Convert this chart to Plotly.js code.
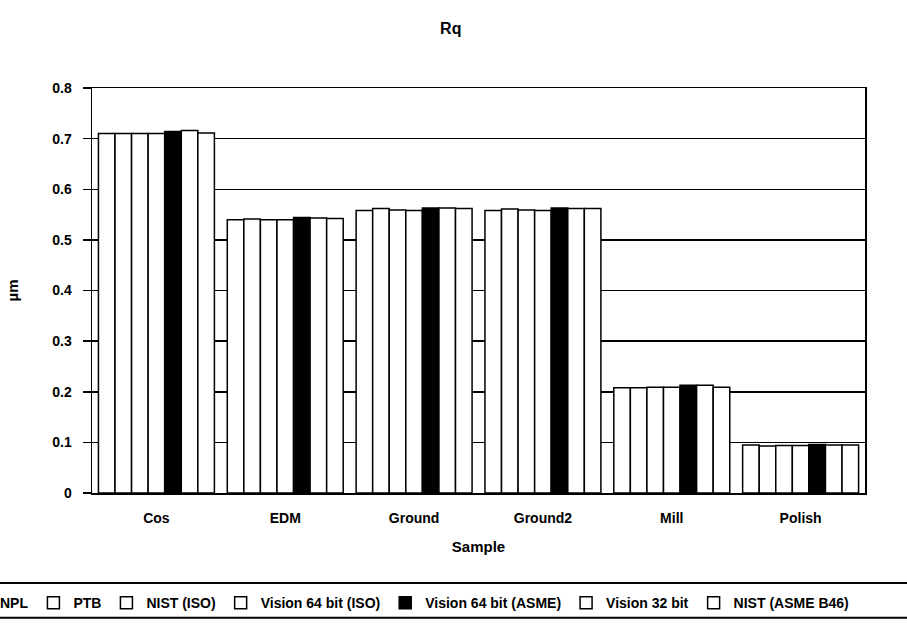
<!DOCTYPE html>
<html>
<head>
<meta charset="utf-8">
<script src="https://cdn.plot.ly/plotly-3.0.1.min.js"></script>
<style>html,body{margin:0;padding:0;background:#fff;}#chart{width:907px;height:625px;}</style>
</head>
<body>
<div id="chart"></div>
<script>
const categories = ["Cos", "EDM", "Ground", "Ground2", "Mill", "Polish"];
const seriesNames = ["NPL", "PTB", "NIST (ISO)", "Vision 64 bit (ISO)", "Vision 64 bit (ASME)", "Vision 32 bit", "NIST (ASME B46)"];
const npl        = [0.710, 0.540, 0.558, 0.558, 0.208, 0.095];
const ptb        = [0.710, 0.541, 0.562, 0.561, 0.208, 0.093];
const nistIso    = [0.710, 0.540, 0.559, 0.559, 0.209, 0.094];
const vis64Iso   = [0.710, 0.540, 0.558, 0.558, 0.209, 0.094];
const vis64Asme  = [0.714, 0.544, 0.563, 0.563, 0.213, 0.096];
const vis32      = [0.716, 0.543, 0.563, 0.562, 0.213, 0.095];
const nistAsme   = [0.711, 0.542, 0.562, 0.562, 0.209, 0.095];
const seriesValues = [npl, ptb, nistIso, vis64Iso, vis64Asme, vis32, nistAsme];
const fills = ["#ffffff", "#ffffff", "#ffffff", "#ffffff", "#000000", "#ffffff", "#ffffff"];

const FONT = "Liberation Sans, Arial, sans-serif";
const traces = seriesNames.map((name, i) => ({
  type: "bar",
  name: "<b>" + name + "</b>",
  x: categories,
  y: seriesValues[i],
  marker: {color: fills[i], line: {color: "#000000", width: 1.5}},
  hoverinfo: "x+y+name"
}));

const layout = {
  width: 907, height: 625,
  paper_bgcolor: "#ffffff", plot_bgcolor: "#ffffff",
  margin: {l: 92, r: 0, t: 88, b: 132, autoexpand: false},
  font: {family: FONT, color: "#000000", size: 13},
  title: {text: "<b>Rq</b>", x: 0.497, xanchor: "center", y: 0.955, yanchor: "middle",
          font: {family: FONT, size: 16, color: "#000"}},
  barmode: "group", bargap: 0.1, bargroupgap: 0,
  xaxis: {
    domain: [0, 0.9485],
    title: {text: "<b>Sample</b>", font: {family: FONT, size: 15}, standoff: 16},
    tickfont: {family: FONT, size: 14},
    tickprefix: "<b>", ticksuffix: "</b>",
    ticklabelstandoff: 12,
    showline: true, linecolor: "#000", linewidth: 1.5, mirror: true,
    ticks: "", showgrid: false, zeroline: false
  },
  yaxis: {
    title: {text: "<b>µm</b>", font: {family: FONT, size: 15}, standoff: 30},
    range: [0, 0.8], dtick: 0.1, tickformat: ".1~f",
    tickfont: {family: FONT, size: 14},
    tickprefix: "<b>", ticksuffix: "</b>",
    ticks: "outside", ticklen: 8, tickwidth: 1.5, tickcolor: "#000",
    ticklabelstandoff: 8,
    showline: true, linecolor: "#000", linewidth: 1.5, mirror: true,
    showgrid: true, gridcolor: "#000", gridwidth: 1.5, zeroline: false
  },
  showlegend: true,
  legend: {
    orientation: "h", x: -0.162, xanchor: "left", y: -0.272, yanchor: "middle",
    font: {family: FONT, size: 14, color: "#000"},
    bgcolor: "rgba(0,0,0,0)", traceorder: "normal", itemwidth: 30
  },
  shapes: [
    {type: "line", xref: "paper", yref: "paper", x0: -0.2, x1: 1.1, y0: -0.222, y1: -0.222, line: {color: "#000", width: 2}},
    {type: "line", xref: "paper", yref: "paper", x0: -0.2, x1: 1.1, y0: -0.308, y1: -0.308, line: {color: "#000", width: 2}}
  ]
};

Plotly.newPlot("chart", traces, layout, {displayModeBar: false, staticPlot: true});
</script>
</body>
</html>
